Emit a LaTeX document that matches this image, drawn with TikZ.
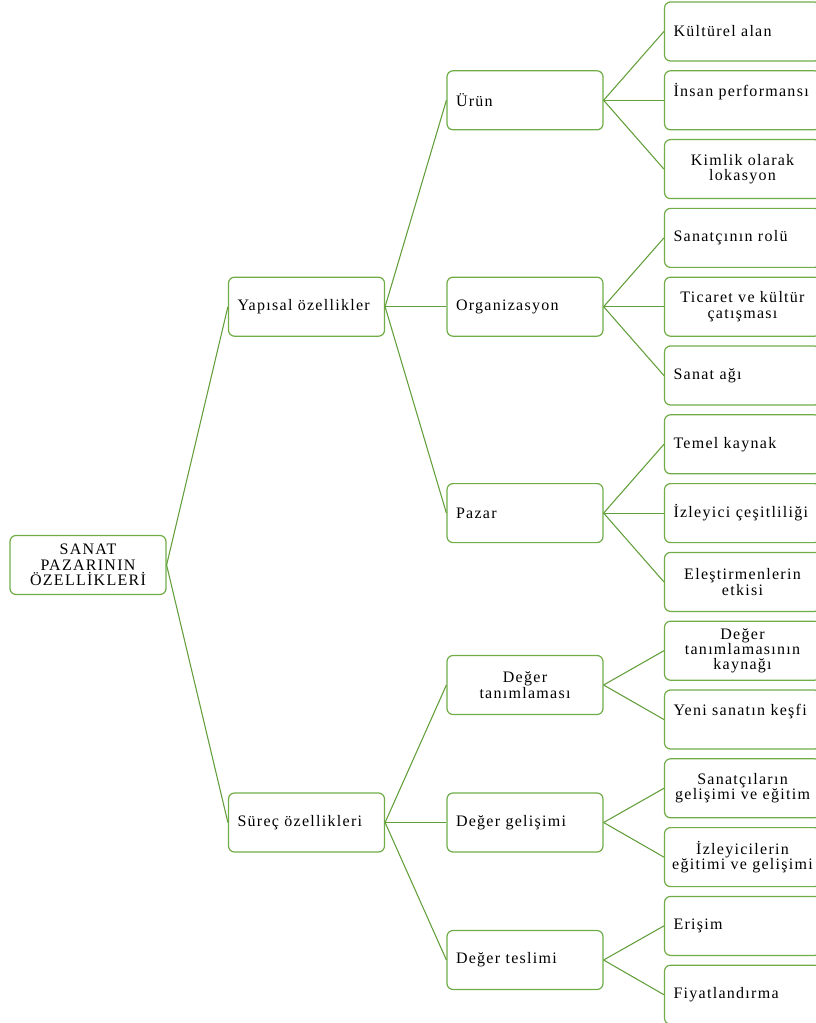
\documentclass[tikz,border=0pt]{standalone}
\usepackage{fontspec}
\setmainfont{Liberation Serif}[LetterSpace=8]
\usetikzlibrary{positioning}
\definecolor{boxgreen}{RGB}{112,173,71}
\definecolor{linegreen}{RGB}{98,158,58}
\tikzset{
  box/.style={draw=boxgreen, line width=0.9pt, rounded corners=4.5pt, fill=white,
    minimum width=117pt, minimum height=44.25pt, inner xsep=6.75pt, inner ysep=2pt,
    text width=103.5pt, align=left, font=\fontsize{12}{11.5}\selectfont},
  mid/.style={align=center, inner xsep=2pt, text width=113pt},
  lift/.style={text depth=15pt},
  link/.style={linegreen, line width=0.8pt},
}
\begin{document}
\begin{tikzpicture}[x=0.75pt,y=-0.75pt]
\useasboundingbox (0,0) rectangle (816,1023);
\def\xa{88} \def\xb{306.5} \def\xc{525} \def\xd{742.5} \def\dy{68.8} \def\yt{31.5}
% root and first level
\node[box, mid] (root) at (\xa,565) {SANAT\\PAZARININ\\ÖZELLİKLERİ};
\node[box] (yap) at (\xb,\yt+4*\dy) {Yapısal özellikler};
\node[box] (sur) at (\xb,822.5) {Süreç özellikleri};
% second level
\node[box] (urun) at (\xc,\yt+\dy) {Ürün};
\node[box] (org) at (\xc,\yt+4*\dy) {Organizasyon};
\node[box] (paz) at (\xc,\yt+7*\dy) {Pazar};
\node[box, mid] (dtan) at (\xc,685) {Değer\\tanımlaması};
\node[box] (dgel) at (\xc,822.5) {Değer gelişimi};
\node[box] (dtes) at (\xc,960) {Değer teslimi};
% leaves
\node[box] (kul) at (\xd,\yt) {Kültürel alan};
\node[box, lift] (ins) at (\xd,\yt+\dy) {İnsan performansı};
\node[box, mid] (kim) at (\xd,\yt+2*\dy) {Kimlik olarak\\lokasyon};
\node[box] (rol) at (\xd,\yt+3*\dy) {Sanatçının rolü};
\node[box, mid] (tic) at (\xd,\yt+4*\dy) {Ticaret ve kültür\\çatışması};
\node[box] (ag) at (\xd,\yt+5*\dy) {Sanat ağı};
\node[box] (tem) at (\xd,\yt+6*\dy) {Temel kaynak};
\node[box] (izc) at (\xd,\yt+7*\dy) {İzleyici çeşitliliği};
\node[box, mid] (ele) at (\xd,\yt+8*\dy) {Eleştirmenlerin\\etkisi};
\node[box, mid] (kay) at (\xd,\yt+9*\dy) {Değer\\tanımlamasının\\kaynağı};
\node[box, lift] (yen) at (\xd,\yt+10*\dy) {Yeni sanatın keşfi};
\node[box, mid] (sge) at (\xd,\yt+11*\dy) {Sanatçıların\\gelişimi ve eğitim};
\node[box, mid] (ieg) at (\xd,\yt+12*\dy) {İzleyicilerin\\eğitimi ve gelişimi};
\node[box] (eri) at (\xd,\yt+13*\dy) {Erişim};
\node[box] (fiy) at (\xd,\yt+14*\dy) {Fiyatlandırma};
% connectors
\foreach \a/\b in {root/yap, root/sur, yap/urun, yap/org, yap/paz, sur/dtan, sur/dgel, sur/dtes,
  urun/kul, urun/ins, urun/kim, org/rol, org/tic, org/ag, paz/tem, paz/izc, paz/ele,
  dtan/kay, dtan/yen, dgel/sge, dgel/ieg, dtes/eri, dtes/fiy}
  \draw[link] (\a.east) -- (\b.west);
\end{tikzpicture}
\end{document}
